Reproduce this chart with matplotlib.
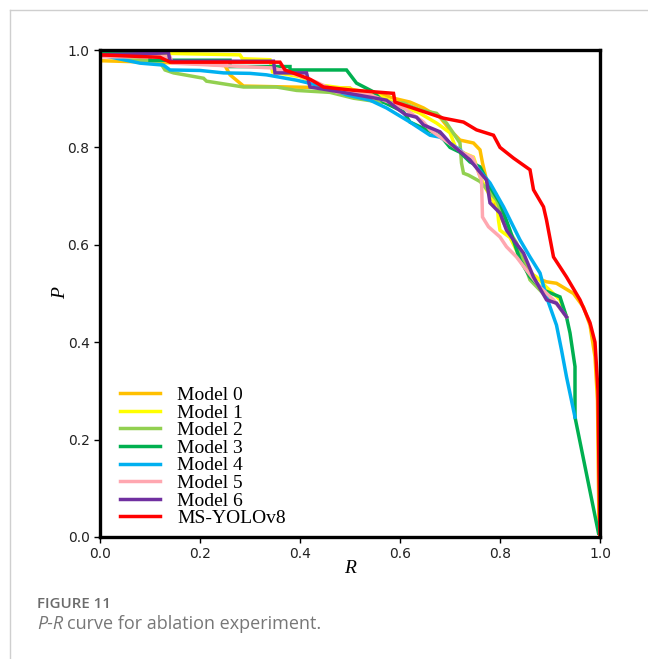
"""P-R curves for the ablation experiment (Figure 11)."""
import matplotlib

matplotlib.use("Agg")
import matplotlib.pyplot as plt
from matplotlib.lines import Line2D

# ---- data ------------------------------------------------------------------
labels = ["Model 0", "Model 1", "Model 2", "Model 3", "Model 4",
          "Model 5", "Model 6", "MS-YOLOv8"]
colors = ["#FFC000", "#FFFF00", "#92D050", "#00B050", "#00B0F0",
          "#FFA7B0", "#7030A0", "#FF0000"]

r_model0 = [0, 0.10, 0.20, 0.25, 0.26, 0.287, 0.38, 0.50, 0.513, 0.567, 0.587,
            0.62, 0.647, 0.66, 0.68, 0.70, 0.72, 0.747, 0.76, 0.765, 0.773,
            0.78, 0.80, 0.82, 0.84, 0.867, 0.893, 0.913, 0.947, 0.967, 0.98,
            0.99, 0.995, 0.998, 1.0]
p_model0 = [0.978, 0.975, 0.972, 0.968, 0.949, 0.926, 0.924, 0.922, 0.911,
            0.908, 0.901, 0.893, 0.881, 0.873, 0.862, 0.836, 0.815, 0.809,
            0.795, 0.768, 0.733, 0.706, 0.66, 0.62, 0.58, 0.534, 0.524, 0.521,
            0.50, 0.472, 0.435, 0.37, 0.28, 0.014, 0.0]

r_model1 = [0, 0.13, 0.14, 0.28, 0.285, 0.34, 0.345, 0.40, 0.44, 0.50, 0.547,
            0.60, 0.64, 0.673, 0.70, 0.713, 0.747, 0.76, 0.773, 0.787, 0.793,
            0.797, 0.80, 0.82, 0.853, 0.873, 0.893, 0.92, 0.933]
p_model1 = [0.99, 0.99, 0.993, 0.99, 0.982, 0.98, 0.955, 0.945, 0.928, 0.92,
            0.911, 0.887, 0.87, 0.85, 0.83, 0.795, 0.78, 0.74, 0.713, 0.69,
            0.698, 0.65, 0.63, 0.615, 0.548, 0.534, 0.513, 0.487, 0.452]

r_model2 = [0, 0.12, 0.13, 0.147, 0.207, 0.213, 0.287, 0.353, 0.393, 0.46,
            0.507, 0.56, 0.607, 0.64, 0.673, 0.693, 0.72, 0.723, 0.727, 0.737,
            0.76, 0.793, 0.813, 0.833, 0.86, 0.893, 0.913, 0.933]
p_model2 = [0.99, 0.975, 0.959, 0.953, 0.942, 0.936, 0.924, 0.924, 0.917,
            0.913, 0.901, 0.893, 0.891, 0.877, 0.87, 0.85, 0.809, 0.768, 0.747,
            0.743, 0.73, 0.692, 0.637, 0.604, 0.528, 0.493, 0.48, 0.452]

r_model3 = [0, 0.10, 0.10, 0.26, 0.26, 0.38, 0.38, 0.493, 0.513, 0.547, 0.567,
            0.607, 0.62, 0.653, 0.68, 0.70, 0.72, 0.74, 0.76, 0.78, 0.80, 0.82,
            0.84, 0.86, 0.887, 0.92, 0.933, 0.94, 0.95, 0.95, 0.997]
p_model3 = [0.994, 0.994, 0.979, 0.979, 0.966, 0.966, 0.959, 0.959, 0.932,
            0.914, 0.893, 0.873, 0.852, 0.836, 0.825, 0.80, 0.79, 0.77, 0.76,
            0.719, 0.686, 0.63, 0.569, 0.534, 0.507, 0.493, 0.452, 0.419, 0.35,
            0.246, 0.008]

r_model4 = [0, 0.08, 0.127, 0.14, 0.20, 0.247, 0.30, 0.333, 0.393, 0.46,
            0.493, 0.54, 0.573, 0.62, 0.66, 0.68, 0.72, 0.747, 0.78, 0.807,
            0.84, 0.86, 0.88, 0.893, 0.913, 0.923, 0.933, 0.95]
p_model4 = [0.99, 0.973, 0.969, 0.959, 0.958, 0.953, 0.952, 0.949, 0.938,
            0.922, 0.908, 0.897, 0.881, 0.852, 0.825, 0.821, 0.795, 0.768,
            0.727, 0.678, 0.61, 0.575, 0.542, 0.493, 0.435, 0.384, 0.329, 0.246]

r_model5 = [0, 0.14, 0.145, 0.347, 0.393, 0.433, 0.473, 0.54, 0.607, 0.647,
            0.66, 0.727, 0.745, 0.763, 0.765, 0.777, 0.80, 0.813, 0.833, 0.853,
            0.88, 0.907, 0.933]
p_model5 = [0.986, 0.986, 0.973, 0.963, 0.949, 0.934, 0.914, 0.908, 0.881,
            0.852, 0.836, 0.788, 0.78, 0.733, 0.657, 0.637, 0.616, 0.596, 0.575,
            0.548, 0.513, 0.487, 0.452]

r_model6 = [0, 0.137, 0.14, 0.347, 0.35, 0.413, 0.42, 0.48, 0.513, 0.573,
            0.593, 0.61, 0.633, 0.647, 0.68, 0.70, 0.74, 0.773, 0.78, 0.80,
            0.813, 0.827, 0.847, 0.867, 0.893, 0.913, 0.933]
p_model6 = [0.99, 0.994, 0.977, 0.977, 0.953, 0.953, 0.924, 0.914, 0.908,
            0.897, 0.881, 0.868, 0.862, 0.846, 0.832, 0.809, 0.774, 0.733,
            0.686, 0.665, 0.63, 0.61, 0.583, 0.534, 0.487, 0.48, 0.452]

r_ms = [0, 0.12, 0.14, 0.36, 0.37, 0.42, 0.447, 0.50, 0.587, 0.59, 0.687,
        0.727, 0.753, 0.787, 0.80, 0.827, 0.86, 0.867, 0.887, 0.893, 0.907,
        0.933, 0.96, 0.98, 0.99, 0.996, 0.998, 1.0]
p_ms = [0.99, 0.985, 0.975, 0.975, 0.959, 0.94, 0.924, 0.918, 0.911, 0.893,
        0.86, 0.852, 0.836, 0.825, 0.80, 0.778, 0.754, 0.713, 0.678, 0.651,
        0.575, 0.534, 0.487, 0.44, 0.40, 0.30, 0.13, 0.0]

curves = [(r_model0, p_model0), (r_model1, p_model1), (r_model2, p_model2),
          (r_model3, p_model3), (r_model4, p_model4), (r_model5, p_model5),
          (r_model6, p_model6), (r_ms, p_ms)]
ticks = [0.0, 0.2, 0.4, 0.6, 0.8, 1.0]

fig = plt.figure(figsize=(6.48, 6.59), dpi=100)
ax = fig.add_axes([100 / 648, 1 - 537 / 659, 500 / 648, 487 / 659])

for (r, p), c, lab in zip(curves, colors, labels):
    ax.plot(r, p, color=c, lw=2.5, label=lab, solid_joinstyle="miter")

ax.set_xlim(0, 1)
ax.set_ylim(0, 1)
ax.set_xticks(ticks)
ax.set_yticks(ticks)
ax.tick_params(labelsize=10, labelcolor="#222222", length=4, width=1,
               top=False, right=False)
for s in ax.spines.values():
    s.set_linewidth(2.4)
ax.set_xlabel("R", fontsize=14, family="Liberation Serif", style="italic",
              labelpad=-1)
ax.set_ylabel("P", fontsize=14, family="Liberation Serif", style="italic",
              labelpad=-1)

handles = [Line2D([], [], color=c, lw=2.5) for c in colors]
ax.legend(handles, labels, loc="lower left", bbox_to_anchor=(0.012, -0.008),
          frameon=False, prop={"family": "Liberation Serif", "size": 14},
          handlelength=2.1, handletextpad=0.85, labelspacing=0.0,
          borderaxespad=0.3)

# page frame + caption
fig.add_artist(Line2D([10 / 648, 1], [1 - 10 / 659] * 2, color="#cfcfcf", lw=1))
fig.add_artist(Line2D([10 / 648] * 2, [0, 1 - 10 / 659], color="#cfcfcf", lw=1))
fig.text(37 / 648, 1 - 604 / 659, "FIGURE 11", family="Open Sans",
         weight="semibold", fontsize=10.8, color="#6b6b6b", va="center")
t1 = fig.text(37 / 648, 1 - 624 / 659, "P-R", family="Open Sans",
              style="italic", fontsize=13, color="#777777", va="center")
rend = fig.canvas.get_renderer()
bb = t1.get_window_extent(rend)
fig.text(bb.x1 / fig.bbox.width + 0.006, 1 - 624 / 659,
         "curve for ablation experiment.", family="Open Sans", fontsize=13,
         color="#777777", va="center")

fig.savefig("out.png", dpi=100)
